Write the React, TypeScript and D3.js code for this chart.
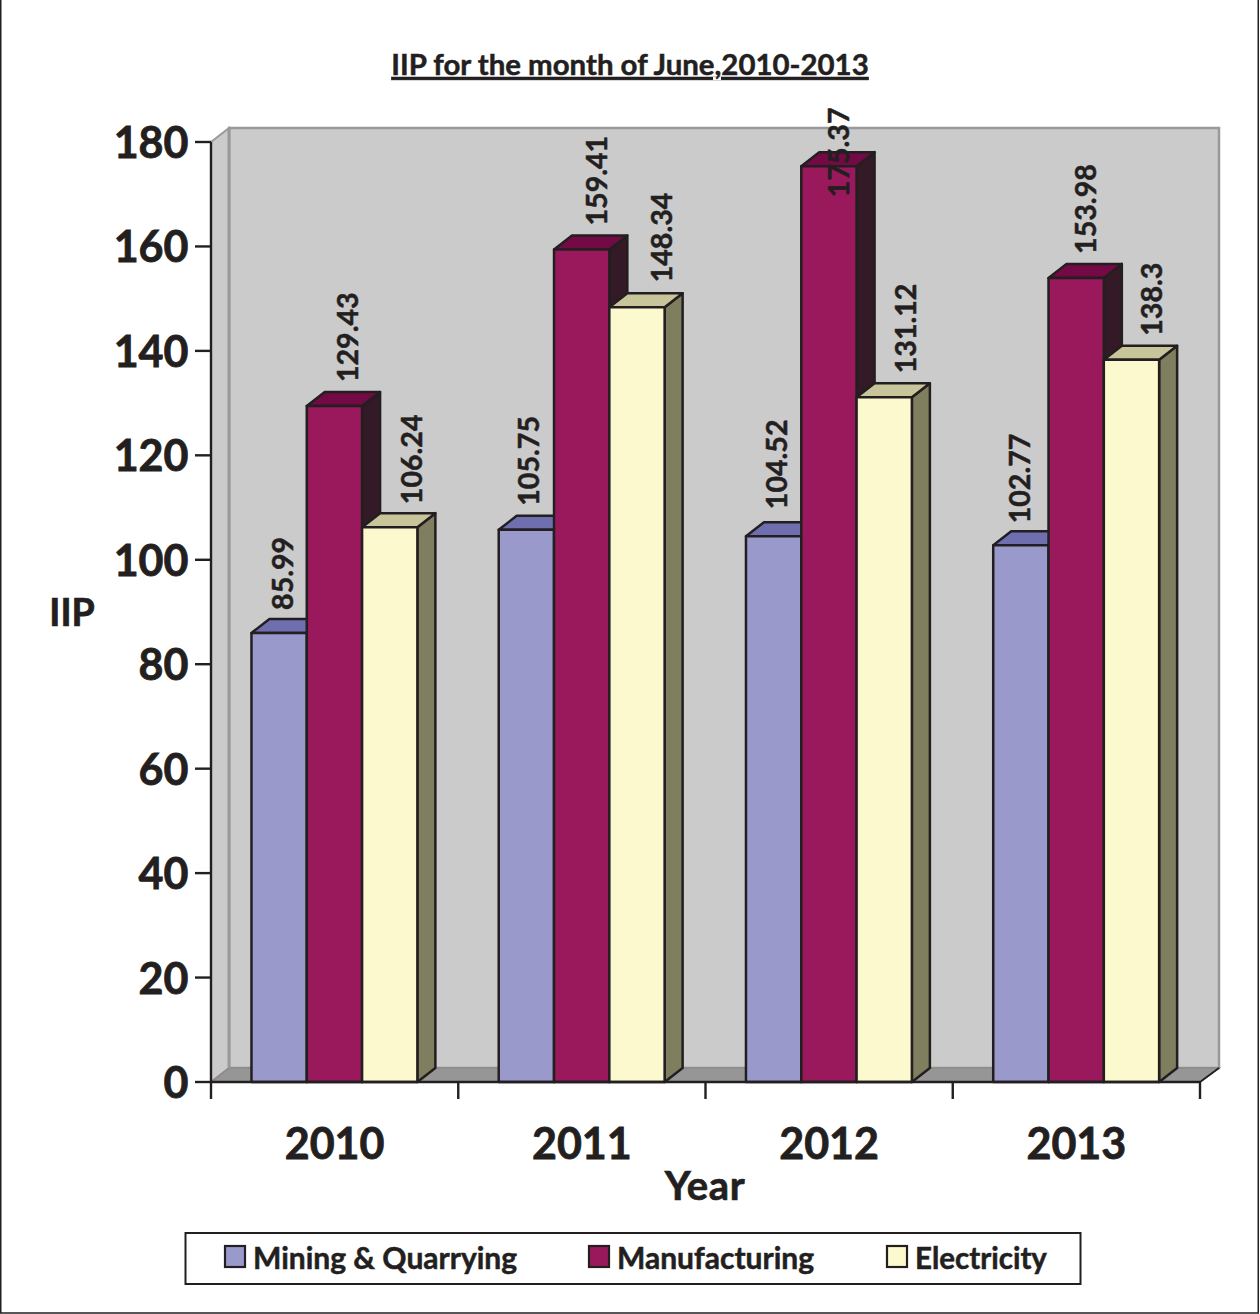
import React from "react";
import * as d3 from "d3";

const years = ["2010", "2011", "2012", "2013"];
const seriesNames = ["Mining & Quarrying", "Manufacturing", "Electricity"];
const mining = [85.99, 105.75, 104.52, 102.77];
const manufacturing = [129.43, 159.41, 175.37, 153.98];
const electricity = [106.24, 148.34, 131.12, 138.3];
const yTicks = [0, 20, 40, 60, 80, 100, 120, 140, 160, 180];

const front = ["#9999cc", "#99195c", "#fdf9ce"];
const topFace = ["#6f6fb0", "#730a45", "#c9c59b"];
const sideFace = ["#5c5c96", "#331a26", "#7f7f60"];
// hand-placed label nudges seen in the reference: [dx, dy] per series per year
const nudgeX = [[4, 3, 3, -1], [14, 15, 10, 10], [22, 25, 22, 21]];
const nudgeY = [[-23, -24, -27, -22], [-24, -24, 31, -24], [-23, -25, -24, -24]];

const FONT = "Lato, Carlito, sans-serif";
const INK = "#231f20";
const DX = 18, DY = -14;
const heavy = (w: number) => ({ stroke: INK, strokeWidth: w, paintOrder: "stroke" as const });

export default function App() {
  const all = [mining, manufacturing, electricity];
  const y = d3.scaleLinear().domain([0, 180]).range([1082, 142]);
  const x0 = d3.scaleBand<string>().domain(years).range([211, 1200]);
  const barW = 55.3;
  const groupOffset = (x0.bandwidth() - barW * 3) / 2 - 0.2;
  const barX = (yi: number, si: number) => (x0(years[yi]) as number) + groupOffset + si * barW;
  const poly = (pts: [number, number][]) => pts.map((p) => p.join(",")).join(" ");
  const base = y(0);
  const wallL = 211 + DX, wallR = 1200 + DX + 1;
  const wallTop = y(180) + DY;

  const legendItems = [
    { sx: 225, tx: 253 },
    { sx: 589, tx: 617 },
    { sx: 887, tx: 915 },
  ];

  return (
    <svg width={1260} height={1314} style={{ position: "absolute", left: 0, top: 0, background: "#fff" }} fontFamily={FONT}>
      <rect x={0.75} y={-5} width={1257.5} height={1318} fill="none" stroke={INK} strokeWidth={1.5} />
      <text x={630} y={75} textAnchor="middle" fontSize={29.4} fontWeight={700} fill={INK} textDecoration="underline" {...heavy(0.5)}>
        IIP for the month of June,2010-2013
      </text>

      {/* walls */}
      <polygon points={poly([[wallL, wallTop], [wallR, wallTop], [wallR, base + DY], [wallL, base + DY]])} fill="#cbcbcb" stroke="#999" strokeWidth={2.5} />
      <polygon points={poly([[211, y(180)], [wallL, wallTop], [wallL, base + DY], [211, base]])} fill="#cbcbcb" stroke="#999" strokeWidth={2} />
      <polygon points={poly([[211, base], [wallL, base + DY], [wallR, base + DY], [1200, base]])} fill="#969696" stroke="#8a8a8a" strokeWidth={1.5} />
      <line x1={wallL} x2={wallL} y1={wallTop} y2={base + DY} stroke="#999" strokeWidth={3} />

      {/* bars */}
      {years.map((yr, yi) =>
        all.map((vals, si) => {
          const bx = barX(yi, si);
          const ty = y(vals[yi]);
          return (
            <g key={yr + si} stroke={INK} strokeWidth={2.5} strokeLinejoin="round">
              <polygon points={poly([[bx + barW, ty], [bx + barW + DX, ty + DY], [bx + barW + DX, base + DY], [bx + barW, base]])} fill={sideFace[si]} />
              <polygon points={poly([[bx, ty], [bx + DX, ty + DY], [bx + barW + DX, ty + DY], [bx + barW, ty]])} fill={topFace[si]} />
              <rect x={bx} y={ty} width={barW} height={base - ty} fill={front[si]} />
            </g>
          );
        })
      )}

      {/* axes */}
      <g stroke={INK} strokeWidth={2.4} fill="none">
        <line x1={211} x2={211} y1={y(180)} y2={base} />
        <line x1={211} x2={1200} y1={base} y2={base} />
        <line x1={1200} x2={wallR} y1={base} y2={base + DY} strokeWidth={1.8} />
        {yTicks.map((t) => (
          <line key={t} x1={195} x2={211} y1={y(t)} y2={y(t)} />
        ))}
        {[...years.map((d) => x0(d) as number), 1200].map((t) => (
          <line key={t} x1={t} x2={t} y1={base} y2={base + 17} />
        ))}
      </g>
      {yTicks.map((t) => (
        <text key={t} x={188.5} y={y(t) + 16} textAnchor="end" fontSize={43} fontWeight={700} fill={INK} {...heavy(0.8)}>
          {t}
        </text>
      ))}
      {years.map((yr) => (
        <text key={yr} x={(x0(yr) as number) + x0.bandwidth() / 2} y={1159} textAnchor="middle" fontSize={43} fontWeight={700} fill={INK} {...heavy(0.8)}>
          {yr}
        </text>
      ))}
      <text x={72} y={626} textAnchor="middle" fontSize={37.5} fontWeight={700} fill={INK} {...heavy(0.7)}>IIP</text>
      <text x={705} y={1200} textAnchor="middle" fontSize={40} fontWeight={700} letterSpacing={0.6} fill={INK} {...heavy(0.7)}>Year</text>

      {/* data labels */}
      {years.map((yr, yi) =>
        all.map((vals, si) => {
          const cx = barX(yi, si) + barW / 2 + nudgeX[si][yi] + 10;
          const ty = y(vals[yi]) + nudgeY[si][yi];
          return (
            <text key={yr + si} transform={`translate(${cx},${ty}) rotate(-90)`} fontSize={28.6} fontWeight={700} fill={INK} {...heavy(0.5)}>
              {String(vals[yi])}
            </text>
          );
        })
      )}

      {/* legend */}
      <rect x={185.5} y={1233} width={895} height={51} fill="#fff" stroke={INK} strokeWidth={2} />
      {seriesNames.map((n, i) => (
        <g key={n}>
          <rect x={legendItems[i].sx} y={1246} width={20} height={21} fill={front[i]} stroke={INK} strokeWidth={2.2} />
          <text x={legendItems[i].tx} y={1269} fontSize={i === 2 ? 29.5 : 30} fontWeight={700} fill={INK} {...heavy(0.5)}>{n}</text>
        </g>
      ))}
    </svg>
  );
}
